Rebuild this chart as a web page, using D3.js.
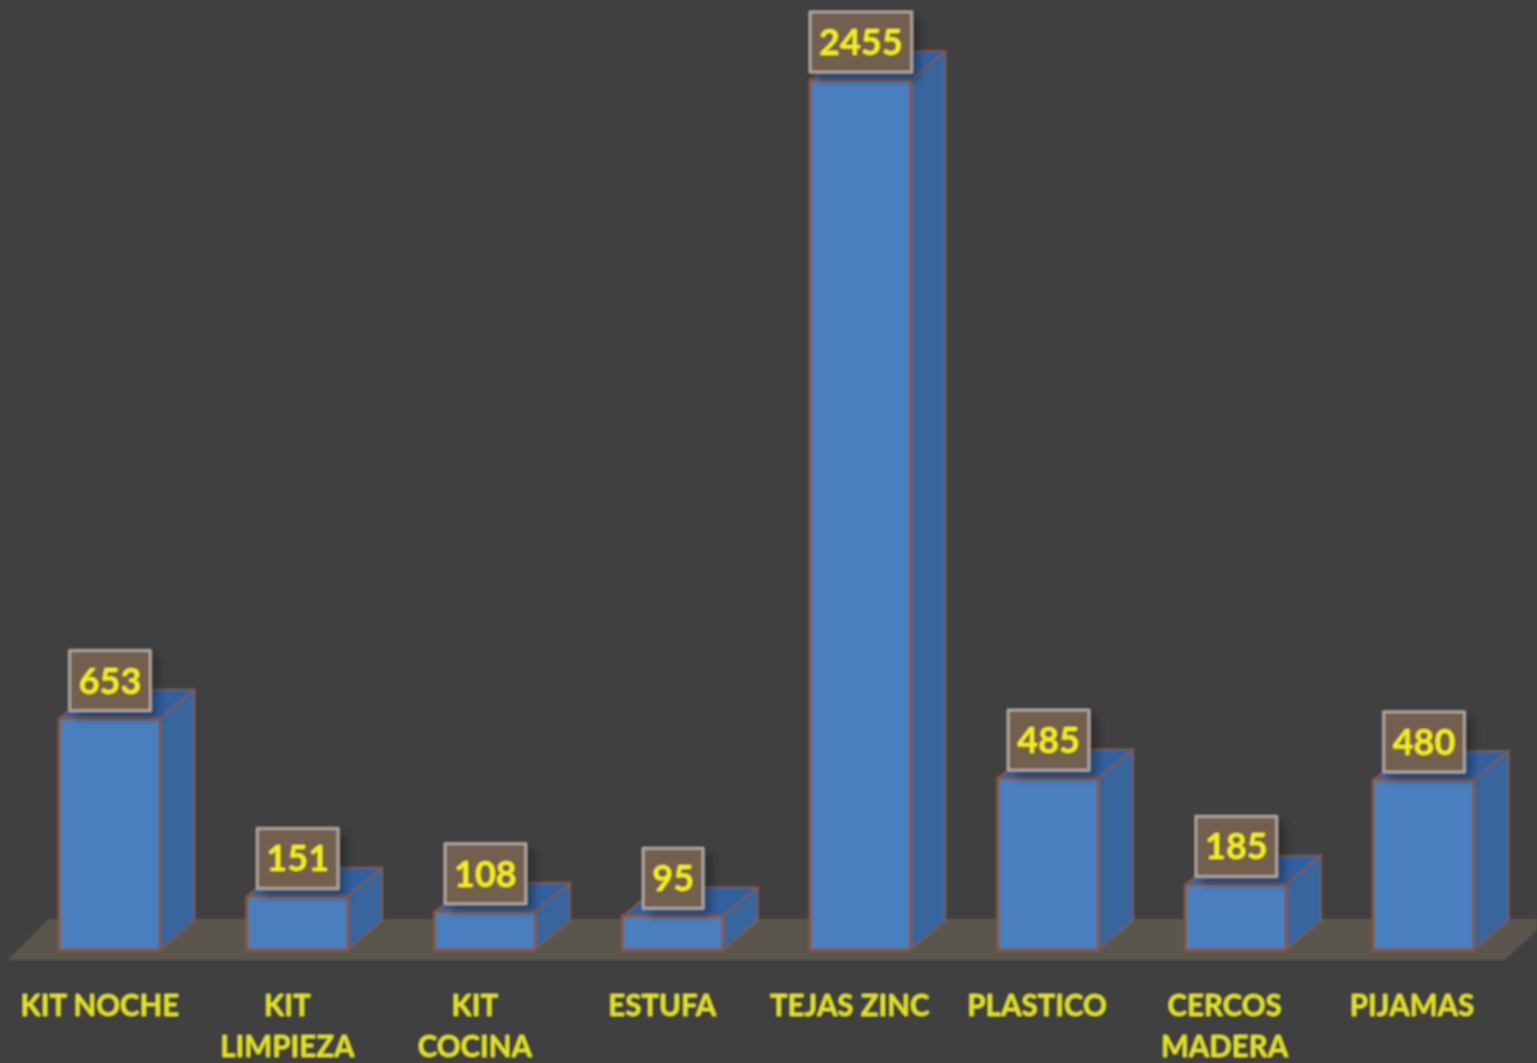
<!DOCTYPE html>
<html><head><meta charset="utf-8">
<style>html,body{margin:0;padding:0;background:#3f3f3f;overflow:hidden}svg{display:block}</style>
<script src="https://cdn.jsdelivr.net/npm/d3@7"></script></head><body>
<svg id="c" width="1537" height="1063"></svg>
<script>
const categories=["KIT NOCHE","KIT|LIMPIEZA","KIT|COCINA","ESTUFA","TEJAS ZINC","PLASTICO","CERCOS|MADERA","PIJAMAS"];
const values=[653,151,108,95,2455,485,185,480];
const W=1537,H=1063,baseY=950,depthX=35,depthY=29,labelGap=8;
const svg=d3.select("#c");
const defs=svg.append("defs");
defs.append("filter").attr("id","soft").attr("x","-5%").attr("y","-5%").attr("width","110%").attr("height","110%")
  .append("feGaussianBlur").attr("stdDeviation",1.1);
const sh=defs.append("filter").attr("id","shadow").attr("x","-30%").attr("y","-30%").attr("width","170%").attr("height","170%");
sh.append("feDropShadow").attr("dx",7).attr("dy",7).attr("stdDeviation",5).attr("flood-color","#000").attr("flood-opacity",0.3);
const g=svg.append("g").attr("filter","url(#soft)");
g.append("rect").attr("x",-10).attr("y",-10).attr("width",W+20).attr("height",H+20).attr("fill","#3f3f3f");

const x=d3.scaleBand().domain(categories).range([15.5,1517.5]).paddingInner(0.465).paddingOuter(0.233);
const y=d3.scaleLinear().domain([0,2455]).range([baseY,80]);
const poly=d3.line();

// floor
g.append("path").attr("d",poly([[8,960],[1505,960],[1537,930],[1537,919],[48,919]])+"Z").attr("fill","#5a564b");

const bars=g.selectAll("g.bar").data(values).join("g").attr("class","bar");
const stroke="#85593f";
bars.append("path").attr("d",(d,i)=>{const a=x(categories[i])+x.bandwidth(),t=y(d);
  return poly([[a,baseY],[a+depthX,baseY-depthY],[a+depthX,t-depthY],[a,t]])+"Z"})
  .attr("fill","#39659b").attr("stroke",stroke).attr("stroke-width",1.5);
bars.append("path").attr("d",(d,i)=>{const a=x(categories[i]),b=a+x.bandwidth(),t=y(d);
  return poly([[a,t],[a+depthX,t-depthY],[b+depthX,t-depthY],[b,t]])+"Z"})
  .attr("fill","#33609f").attr("stroke",stroke).attr("stroke-width",1.5);
bars.append("rect").attr("x",(d,i)=>x(categories[i])).attr("y",d=>y(d))
  .attr("width",x.bandwidth()).attr("height",d=>baseY-y(d))
  .attr("fill","#4a7fbe").attr("stroke",stroke).attr("stroke-width",3);

// value labels
const lab=g.selectAll("g.lab").data(values).join("g").attr("class","lab")
  .attr("transform",(d,i)=>`translate(${x(categories[i])+x.bandwidth()/2+0.5},${y(d)-labelGap})`);
const boxes=lab.append("rect").attr("fill","#735f4d").attr("stroke","#b4aca3").attr("stroke-width",2.5).attr("filter","url(#shadow)");
const texts=lab.append("text").text(d=>d).attr("text-anchor","middle").attr("y",-17)
  .attr("font-family","Lato, sans-serif").attr("font-weight",700).attr("font-size",36).attr("fill","#f8f20c");
texts.each(function(d,i){const w=this.getComputedTextLength()+18;
  d3.select(boxes.nodes()[i]).attr("x",-w/2).attr("y",-60).attr("width",w).attr("height",60);});

// category axis
const axisX=d3.scalePoint().domain(categories).range([x(categories[0])+x.bandwidth()/2-10,x(categories[7])+x.bandwidth()/2-12]);
const ax=g.append("g").attr("transform","translate(0,1016)").call(d3.axisBottom(axisX).tickSize(0).tickPadding(0).tickFormat(""));
ax.select(".domain").remove();
ax.selectAll(".tick text").each(function(c){
  const t=d3.select(this).attr("y",0).attr("dy",null).attr("font-family","Lato, sans-serif").attr("font-weight",700)
    .attr("font-size",29.5).attr("fill","#e6e61e").attr("text-anchor","middle");
  c.split("|").forEach((s,i)=>t.append("tspan").attr("x",0).attr("y",i*41).text(s));
});
</script></body></html>
